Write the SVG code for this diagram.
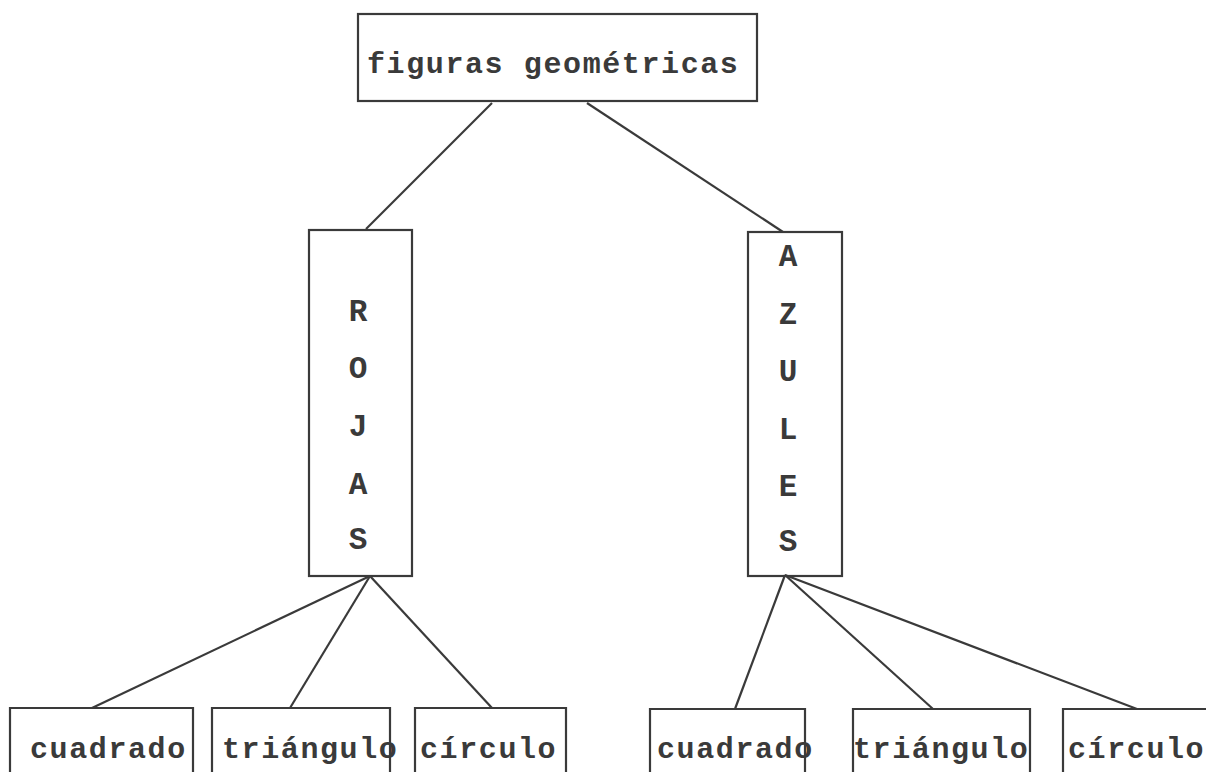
<svg xmlns="http://www.w3.org/2000/svg" width="1206" height="772" viewBox="0 0 1206 772">
<style>
.box{fill:none;stroke:#3a3a3a;stroke-width:2.2}
.ln{stroke:#3a3a3a;stroke-width:2.2;fill:none}
.t{font-family:"Liberation Mono","DejaVu Sans Mono",monospace;font-weight:bold;font-size:30px;letter-spacing:1.6px;fill:#3a3a3a}
.v{font-family:"Liberation Mono","DejaVu Sans Mono",monospace;font-weight:bold;font-size:31px;fill:#3a3a3a;text-anchor:middle}
</style>
<rect width="1206" height="772" fill="#ffffff"/>
<g id="connectors">
<line class="ln" x1="492" y1="103" x2="366" y2="229"/>
<line class="ln" x1="587" y1="103" x2="783" y2="232"/>
<line class="ln" x1="370" y1="576" x2="92" y2="708"/>
<line class="ln" x1="370" y1="576" x2="290" y2="708"/>
<line class="ln" x1="370" y1="576" x2="492" y2="708"/>
<line class="ln" x1="785" y1="575" x2="735" y2="709"/>
<line class="ln" x1="785" y1="575" x2="933" y2="709"/>
<line class="ln" x1="785" y1="575" x2="1137" y2="709"/>
</g>
<g id="root">
<rect class="box" x="358" y="14" width="399" height="87"/>
<text class="t" x="367" y="73">figuras geométricas</text>
</g>
<g id="rojas">
<rect class="box" x="309" y="230" width="103" height="346"/>
<text class="v" x="358" y="321">R</text>
<text class="v" x="358" y="378">O</text>
<text class="v" x="358" y="436">J</text>
<text class="v" x="358" y="494">A</text>
<text class="v" x="358" y="549">S</text>
</g>
<g id="azules">
<rect class="box" x="748" y="232" width="94" height="344"/>
<text class="v" x="788" y="266">A</text>
<text class="v" x="788" y="324">Z</text>
<text class="v" x="788" y="381">U</text>
<text class="v" x="788" y="439">L</text>
<text class="v" x="788" y="496">E</text>
<text class="v" x="788" y="551">S</text>
</g>
<g id="rojas-cuadrado">
<path class="box" d="M10,773 V708 H193 V773"/>
<text class="t" x="30" y="758">cuadrado</text>
</g>
<g id="rojas-triangulo">
<path class="box" d="M212,773 V708 H390 V773"/>
<text class="t" x="222" y="758">triángulo</text>
</g>
<g id="rojas-circulo">
<path class="box" d="M415,773 V708 H566 V773"/>
<text class="t" x="420" y="758">círculo</text>
</g>
<g id="azules-cuadrado">
<path class="box" d="M650,773 V709 H805 V773"/>
<text class="t" x="657" y="758">cuadrado</text>
</g>
<g id="azules-triangulo">
<path class="box" d="M853,773 V709 H1030 V773"/>
<text class="t" x="853" y="758">triángulo</text>
</g>
<g id="azules-circulo">
<path class="box" d="M1063,773 V709 H1207"/>
<text class="t" x="1068" y="758">círculo</text>
</g>
</svg>
